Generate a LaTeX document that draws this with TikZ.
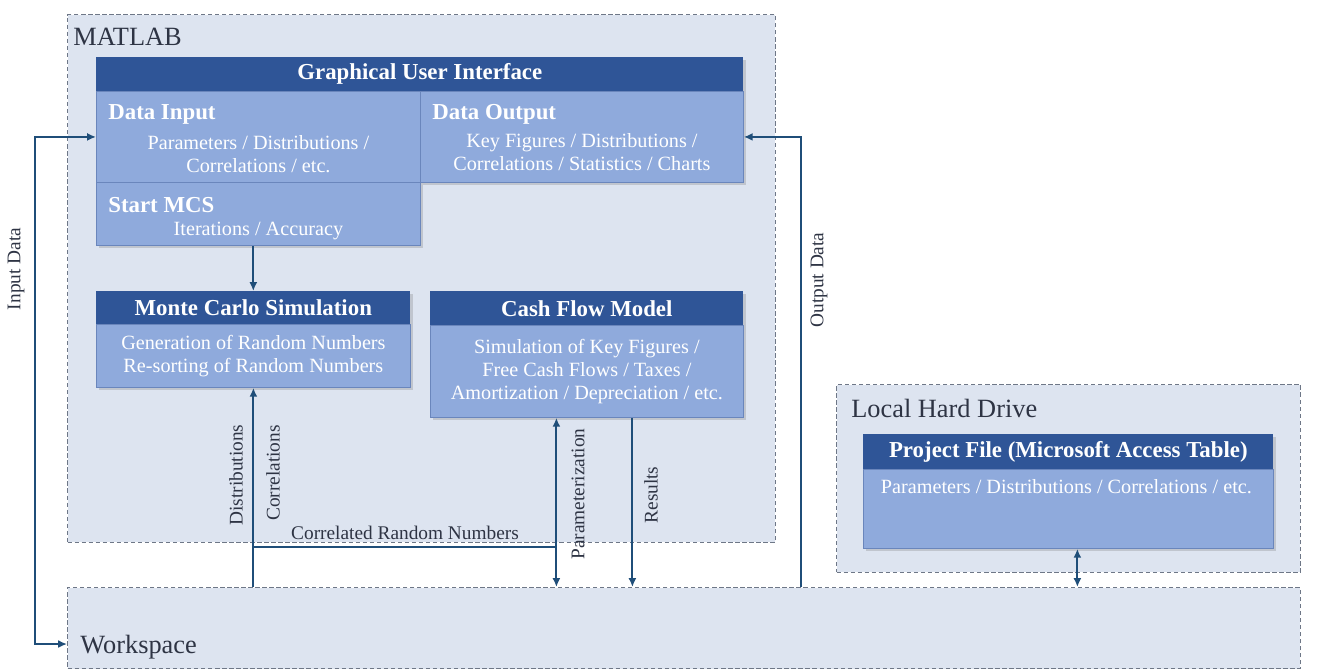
\documentclass[tikz,border=0pt]{standalone}
\usepackage{fontspec}
\setmainfont{Liberation Serif}
\usepackage{xcolor}
\definecolor{hdblue}{HTML}{2F5597}
\definecolor{bdblue}{HTML}{8FAADC}
\definecolor{bdedge}{HTML}{6A86BC}
\definecolor{zonefill}{HTML}{DDE4F0}
\definecolor{zoneline}{HTML}{6E7787}
\definecolor{wireblue}{HTML}{1F4E79}
\definecolor{inktext}{HTML}{2E3444}
\usetikzlibrary{positioning,arrows.meta,calc,shadows}

\begin{document}
\begin{tikzpicture}[x=0.02cm, y=-0.02cm,
    zone/.style={draw=zoneline, dash pattern=on 2.5pt off 1.5pt, line width=0.6pt,
      fill=zonefill, anchor=north west, inner sep=0pt},
    zonelbl/.style={text=inktext, font=\fontsize{15}{18}\selectfont, anchor=base west, inner sep=0pt},
    hdr/.style={fill=hdblue, text=white, font=\fontsize{13}{15}\selectfont\bfseries,
      anchor=north west, inner sep=0pt,
      drop shadow={opacity=0.3, shadow xshift=1.5pt, shadow yshift=-1.5pt}},
    bodybox/.style={fill=bdblue, draw=bdedge, line width=0.5pt, text=white,
      font=\fontsize{11.5}{13}\selectfont, align=center, anchor=north west, inner sep=0pt,
      drop shadow={opacity=0.3, shadow xshift=1.5pt, shadow yshift=-1.5pt}},
    ttl/.style={text=white, font=\fontsize{13}{15}\selectfont\bfseries, anchor=west, inner sep=0pt},
    sub/.style={text=white, font=\fontsize{11.5}{13}\selectfont, align=center, inner sep=0pt},
    wire/.style={draw=wireblue, line width=1.1pt, >={Latex[length=5pt,width=4.5pt]}},
    flat/.style={text=inktext, font=\fontsize{11}{13}\selectfont, inner sep=0pt},
    lbl/.style={flat, rotate=90}]
  \useasboundingbox (0,0) rectangle (1323,670);
  \fill[white] (0,0) rectangle (1323,670);

  % zones
  \node[zone, minimum width=14.16cm, minimum height=10.56cm] (matlab) at (67,14) {};
  \node[zone, minimum width=9.28cm, minimum height=3.76cm] (lhd) at (836,384) {};
  \node[zone, minimum width=24.66cm, minimum height=1.62cm] (ws) at (67,587) {};
  \node[zonelbl] (matlabl) at (73,45) {MATLAB};
  \node[zonelbl] (lhdl) at (851,417) {Local Hard Drive};
  \node[zonelbl] (wsl) at (80,653) {Workspace};

  % GUI
  \node[hdr, minimum width=12.94cm, minimum height=0.68cm] (gui) at (96,57) {Graphical User Interface};
  \node[bodybox, minimum width=6.48cm, minimum height=1.82cm] (din) at (96,91) {};
  \node[bodybox, minimum width=6.46cm, minimum height=1.82cm] (dout) at (420,91) {};
  \node[bodybox, minimum width=6.48cm, minimum height=1.26cm] (mcs) at (96,182) {};
  \node[ttl] (dinttl) at ($(din.north west)+(12,23)$) {Data Input};
  \node[sub] (dintxt) at ($(din.north)+(0,63)$) {Parameters / Distributions /\\Correlations / etc.};
  \node[ttl] (doutttl) at ($(dout.north west)+(12,23)$) {Data Output};
  \node[sub] (douttxt) at ($(dout.north)+(0,61)$) {Key Figures / Distributions /\\Correlations / Statistics / Charts};
  \node[ttl] (mcsttl) at ($(mcs.north west)+(12,23)$) {Start MCS};
  \node[sub] (mcstxt) at ($(mcs.north)+(0,49)$) {Iterations / Accuracy};

  % Monte Carlo + cash flow
  \node[hdr, minimum width=6.28cm, minimum height=0.66cm] (mch) at (96,291) {Monte Carlo Simulation};
  \node[bodybox, minimum width=6.28cm, minimum height=1.26cm] (mcb) at (96,324)
    {Generation of Random Numbers\\Re-sorting of Random Numbers};
  \node[hdr, minimum width=6.26cm, minimum height=0.68cm] (cfh) at (430,291) {Cash Flow Model};
  \node[bodybox, minimum width=6.26cm, minimum height=1.84cm] (cfb) at (430,325)
    {Simulation of Key Figures /\\Free Cash Flows / Taxes /\\Amortization / Depreciation / etc.};

  % project file
  \node[hdr, minimum width=8.2cm, minimum height=0.7cm] (pfh) at (863,434) {Project File (Microsoft Access Table)};
  \node[bodybox, minimum width=8.2cm, minimum height=1.58cm] (pfb) at (863,469) {};
  \node[sub] (pftxt) at ($(pfb.north)+(-2,18)$) {Parameters / Distributions / Correlations / etc.};

  % connectors
  \coordinate (crn) at ($(mcb.south)+(0,159)$);
  \coordinate (ptop) at ($(cfb.south)+(-30.5,0)$);
  \coordinate (rtop) at ($(cfb.south)+(45.5,0)$);
  \coordinate (ibend) at ($(din.west)+(-61,0)$);
  \coordinate (wsin) at ($(ws.west)+(0,16)$);
  \coordinate (obend) at ($(dout.east)+(57,0)$);
  \coordinate (pfdown) at ($(pfb.south)+(9,0)$);
  \draw[wire, ->] (mch.north |- mcs.south) -- (mch.north);
  \draw[wire, ->] (mcb.south |- ws.north) -- (mcb.south);
  \draw[wire] (crn) -- (crn -| ptop);
  \draw[wire, <->] (ptop |- ws.north) -- (ptop);
  \draw[wire, ->] (rtop) -- (rtop |- ws.north);
  \draw[wire, <->] (wsin) -| (ibend) -- (din.west);
  \draw[wire, ->] (obend |- ws.north) -- (obend) -- (dout.east);
  \draw[wire, <->] (pfdown) -- (pfdown |- ws.north);

  % labels
  \node[lbl] (distlbl) at (236,475) {Distributions};
  \node[lbl] (corrlbl) at (273,473) {Correlations};
  \node[flat] (crnlbl) at (405,533) {Correlated Random Numbers};
  \node[lbl] (parlbl) at (578,494) {Parameterization};
  \node[lbl] (reslbl) at (651,495) {Results};
  \node[lbl] (inlbl) at (16,269) {Input Data};
  \node[lbl] (outlbl) at (819,280) {Output Data};
\end{tikzpicture}
\end{document}
